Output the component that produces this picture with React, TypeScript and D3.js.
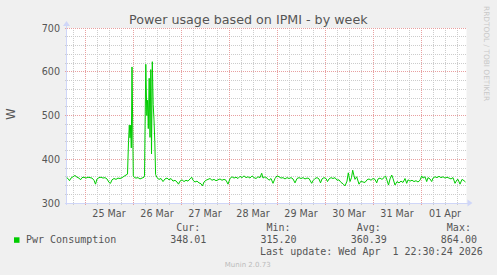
import React from 'react';
import * as d3 from 'd3';

const TITLE = 'Power usage based on IPMI - by week';
const Y_LABEL = 'W';
const Y_MAJOR_TICKS = [300, 400, 500, 600, 700];
const X_TICK_DAYS = ['2026-03-25', '2026-03-26', '2026-03-27', '2026-03-28', '2026-03-29', '2026-03-30', '2026-03-31', '2026-04-01'];
const X_TICK_LABELS = ['25 Mar', '26 Mar', '27 Mar', '28 Mar', '29 Mar', '30 Mar', '31 Mar', '01 Apr'];
const SERIES_NAME = 'Pwr Consumption';
const STAT_HEADERS = ['Cur:', 'Min:', 'Avg:', 'Max:'];
const STAT_VALUES = ['348.01', '315.20', '360.39', '864.00'];
const LAST_UPDATE = 'Last update: Wed Apr  1 22:30:24 2026';
const FOOTER = 'Munin 2.0.73';
const WATERMARK = 'RRDTOOL / TOBI OETIKER';

// Time window (UTC) and samples: hours after window start, watts
const WINDOW_START = '2026-03-24T14:45:00Z';
const WINDOW_HOURS = 200;

const SAMPLE_HOURS = [
  0, 0.75, 1.5, 2.25, 3.25, 4.25, 5.25, 6.25, 7, 7.75, 8.75, 9.75, 10.75, 11.75, 12.75, 13.75, 14.5, 15.25, 16.25, 17.25,
  18.25, 19.25, 20.25, 21.25, 22, 22.75, 23.75, 24.75, 25.75, 26.75, 27.75, 28.75, 29.75, 30.5, 31, 31.4, 31.75, 32.1, 32.4, 32.75,
  33.4, 34, 34.75, 35.75, 36.75, 37.75, 38.75, 39, 39.65, 40.15, 40.55, 40.9, 41.35, 41.75, 42.15, 42.5, 42.9, 43.35, 43.75, 44.15,
  44.55, 45.25, 46.25, 47.25, 48.25, 49.25, 50.25, 51.25, 52.25, 53.25, 54.25, 55.25, 56, 56.75, 57.75, 58.75, 59.75, 60.75, 61.75, 62.6,
  63.25, 64.25, 65.25, 66.25, 67.25, 68, 68.75, 69.75, 70.75, 71.75, 72.75, 73.75, 74.75, 75.75, 76.75, 77.75, 78.75, 79.75, 80.75, 81.75,
  82.75, 83.75, 84.75, 85.75, 86.75, 87.75, 88.75, 89.75, 90.75, 91.75, 92.75, 93.75, 94.75, 95.75, 96.75, 97.6, 98.25, 99.25, 100.25, 101.25,
  102.25, 103.25, 104.25, 105.25, 106.25, 107.25, 108.25, 109.25, 110.25, 111.25, 112.25, 113.25, 114.25, 115.25, 116.25, 117.25, 118.25, 119.25, 120.25, 121.25,
  122.6, 123.25, 124.25, 125.25, 126.25, 127, 127.75, 128.75, 129.75, 130.5, 131.25, 132.25, 133.25, 134.25, 135.25, 136.25, 137.25, 138.25, 139.25, 140.25,
  140.9, 141.75, 142.5, 143.1, 143.75, 144.25, 145.1, 146.25, 147.25, 148.25, 149.25, 150.25, 151.25, 152.25, 153.25, 154.25, 155.1, 155.75, 156.75, 157.75,
  158.75, 159.5, 160.25, 161, 161.75, 162.6, 163.25, 164.25, 165.25, 166.25, 167.25, 168.25, 169.25, 170.1, 170.75, 171.75, 172.75, 173.75, 174.75, 175.75,
  176.75, 177.6, 178.25, 179.25, 180.1, 180.75, 181.75, 182.6, 183.25, 184.25, 185.25, 186.25, 187.25, 188.25, 189.25, 190.25, 191.25, 192.25, 193.25, 194.25,
  195.25, 195.75, 196.75, 197.75, 198.75, 199.5,
];

const SAMPLE_WATTS = [
  358, 356, 351, 357, 360, 363, 359, 357, 353, 358, 359, 357, 359, 358, 357, 352, 343, 355, 358, 359,
  357, 358, 355, 347, 345, 353, 356, 354, 357, 356, 358, 361, 364, 366, 440, 478, 449, 478, 426, 611,
  362, 358, 357, 358, 355, 357, 359, 362, 617, 500, 535, 470, 585, 450, 605, 412, 623, 525, 490, 440,
  365, 358, 354, 356, 349, 355, 357, 353, 356, 350, 352, 348, 343, 350, 353, 349, 352, 350, 355, 359,
  352, 348, 350, 346, 344, 339, 348, 352, 354, 356, 352, 354, 351, 353, 355, 352, 354, 352, 343, 356,
  360, 357, 359, 356, 361, 358, 362, 358, 360, 357, 362, 358, 356, 360, 358, 368, 357, 360, 357, 352,
  356, 345, 356, 362, 360, 357, 358, 355, 358, 356, 358, 355, 346, 356, 358, 356, 358, 355, 357, 356,
  345, 351, 356, 358, 355, 346, 355, 358, 356, 349, 355, 358, 356, 358, 352, 353, 347, 344, 339, 350,
  369, 349, 358, 375, 362, 354, 360, 343, 350, 348, 347, 353, 355, 352, 356, 354, 346, 355, 357, 354,
  358, 362, 352, 341, 355, 364, 356, 341, 349, 346, 350, 347, 356, 345, 353, 350, 352, 349, 351, 348,
  352, 362, 357, 360, 349, 358, 355, 349, 357, 360, 358, 361, 358, 360, 357, 359, 357, 355, 358, 345,
  353, 354, 343, 354, 351, 348,
];

const W = 497;
const H = 275;
const PL = 66.5;
const PR = 466.5;
const PT = 28;
const PB = 203;

const SANS = 'DejaVu Sans, sans-serif';
const MONO = 'DejaVu Sans Mono, monospace';
const FONT_COLOR = '#555555';
const LINE_COLOR = '#00cc00';
const AXIS_COLOR = '#cfd6f8';
const MINOR_GRID = '#cccccc';
const MAJOR_GRID = '#e8a0a0';

export default function App() {
  const start = new Date(WINDOW_START);
  const end = new Date(start.getTime() + WINDOW_HOURS * 3600e3);
  const x = d3.scaleUtc().domain([start, end]).range([PL, PR]);
  const y = d3.scaleLinear().domain([300, 700]).range([PB, PT]);

  const data = SAMPLE_HOURS.map((h, i) => ({ t: new Date(start.getTime() + h * 3600e3), v: SAMPLE_WATTS[i] }));
  const line = d3.line<{ t: Date; v: number }>().x((d) => x(d.t)).y((d) => y(d.v));

  const minorX = d3.utcHour.every(6)!.range(start, end).filter((d) => d.getUTCHours() !== 0);
  const majorX = d3.utcDay.range(start, end);
  const minorY = d3.range(300, 701, 20).filter((v) => v % 100 !== 0);

  return (
    <svg width={W} height={H} style={{ position: 'absolute', left: 0, top: 0, display: 'block' }}>
      <rect x={0} y={0} width={W} height={H} fill="#f0f0f0" />
      <rect x={PL} y={PT} width={PR - PL} height={PB - PT} fill="#ffffff" />
      <defs>
        <clipPath id="plotclip">
          <rect x={PL} y={PT - 2} width={PR - PL} height={PB - PT + 2} />
        </clipPath>
      </defs>
      <g shapeRendering="crispEdges">
        {minorY.map((v) => (
          <line key={'my' + v} x1={PL - 2} x2={PR} y1={y(v)} y2={y(v)} stroke={MINOR_GRID} strokeDasharray="1,1" />
        ))}
        {minorX.map((d) => (
          <line key={'mx' + d.getTime()} x1={x(d)} x2={x(d)} y1={PT} y2={PB + 2} stroke={MINOR_GRID} strokeDasharray="1,1" />
        ))}
        {Y_MAJOR_TICKS.map((v) => (
          <line key={'My' + v} x1={PL - 2} x2={PR} y1={y(v)} y2={y(v)} stroke={MAJOR_GRID} strokeDasharray="1,1" />
        ))}
        {majorX.map((d) => (
          <line key={'Mx' + d.getTime()} x1={x(d)} x2={x(d)} y1={PT} y2={PB + 2} stroke={MAJOR_GRID} strokeDasharray="1,1" />
        ))}
        <line x1={PL - 2} x2={PR + 2} y1={PB} y2={PB} stroke={AXIS_COLOR} />
        <line x1={PL} x2={PL} y1={PB + 2} y2={PT - 3} stroke={AXIS_COLOR} />
      </g>
      <path d={`M${PR + 1},${PB - 3.5} L${PR + 6},${PB} L${PR + 1},${PB + 3.5} Z`} fill={AXIS_COLOR} />
      <path d={`M${PL - 3.5},${PT - 2} L${PL},${PT - 7} L${PL + 3.5},${PT - 2} Z`} fill={AXIS_COLOR} />

      <path d={line(data) || ''} fill="none" stroke={LINE_COLOR} strokeWidth={1} clipPath="url(#plotclip)" />

      <text x={248.3} y={23.5} textAnchor="middle" fontFamily={SANS} fontSize={12.7} fill={FONT_COLOR}>{TITLE}</text>
      {Y_MAJOR_TICKS.map((v) => (
        <text key={'yl' + v} x={60} y={y(v) + 3.5} textAnchor="end" fontFamily={SANS} fontSize={9.6} fill={FONT_COLOR}>{v}</text>
      ))}
      <text transform={`translate(14.5,114) rotate(-90)`} textAnchor="middle" fontFamily={SANS} fontSize={11.5} fill={FONT_COLOR}>{Y_LABEL}</text>
      {X_TICK_DAYS.map((ds, i) => {
        const noon = new Date(new Date(ds + 'T00:00:00Z').getTime() + 12 * 3600e3);
        return (
          <text key={ds} x={x(noon)} y={216.5} textAnchor="middle" fontFamily={SANS} fontSize={9.6} fill={FONT_COLOR}>{X_TICK_LABELS[i]}</text>
        );
      })}
      <text transform="translate(484,6) rotate(90)" fontFamily={SANS} fontSize={7.4} fill="#c8c8c8">{WATERMARK}</text>

      <rect x={14} y={237.3} width={5.5} height={5.5} fill={LINE_COLOR} />
      <text x={26} y={243} fontFamily={MONO} fontSize={10} fill={FONT_COLOR}>{SERIES_NAME}</text>
      {STAT_HEADERS.map((s, i) => (
        <text key={s} x={188.3 + i * 90.2} y={231} textAnchor="middle" fontFamily={MONO} fontSize={10} fill={FONT_COLOR}>{s}</text>
      ))}
      {STAT_VALUES.map((s, i) => (
        <text key={'v' + i} x={188.3 + i * 90.2} y={243} textAnchor="middle" fontFamily={MONO} fontSize={10} fill={FONT_COLOR}>{s}</text>
      ))}
      <text x={482.8} y={255} textAnchor="end" fontFamily={MONO} fontSize={10} fill={FONT_COLOR} style={{ whiteSpace: 'pre' }}>{LAST_UPDATE}</text>
      <text x={247.7} y={266.5} textAnchor="middle" fontFamily={SANS} fontSize={7} fill="#bbbbbb">{FOOTER}</text>
    </svg>
  );
}
